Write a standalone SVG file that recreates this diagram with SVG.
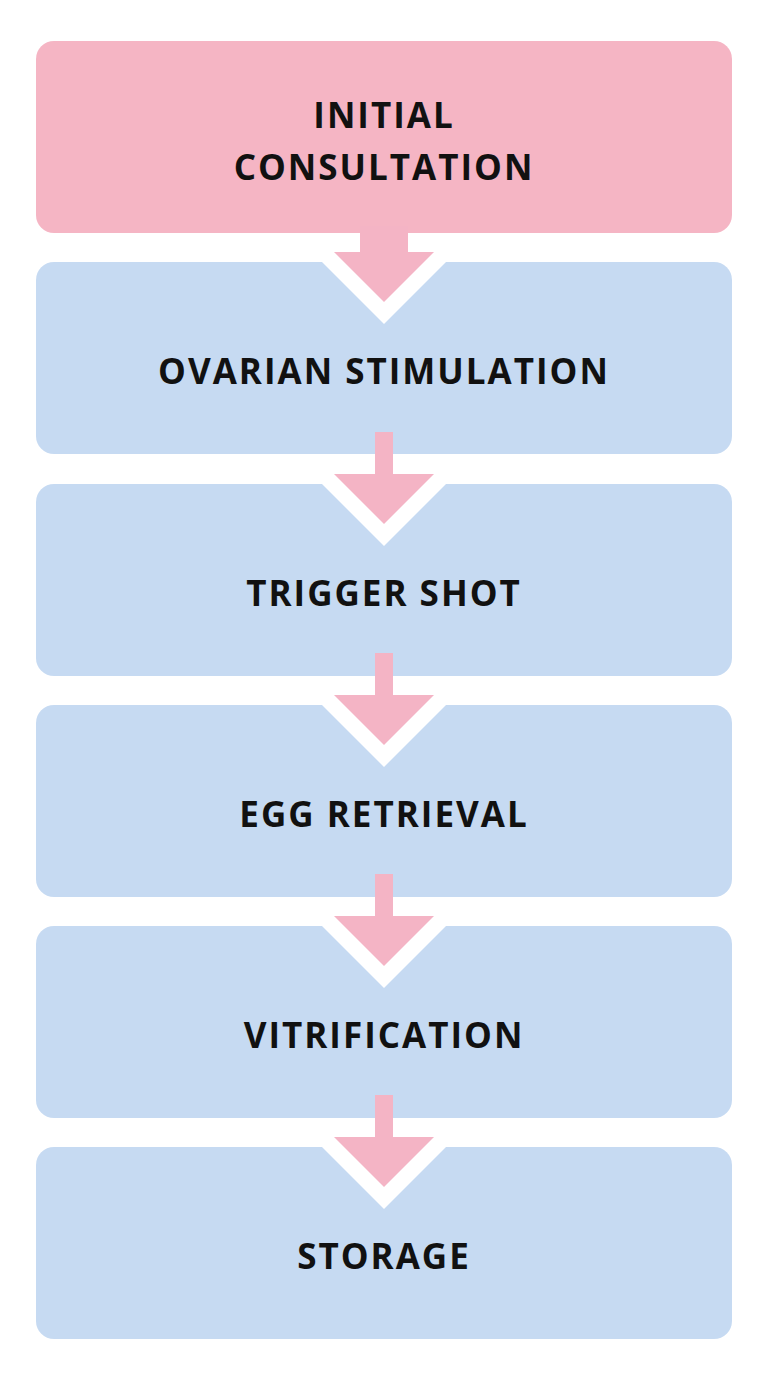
<svg xmlns="http://www.w3.org/2000/svg" width="768" height="1376" viewBox="0 0 768 1376">
<style>
.b{fill:#c6daf2}.p{fill:#f5b5c4}.a{fill:#f4b4c5}.w{fill:#ffffff}
text{font-family:"Open Sans","Liberation Sans",sans-serif;font-weight:700;font-size:35px;letter-spacing:2px;fill:#111;text-anchor:middle}
</style>
<rect width="768" height="1376" fill="#fff"/>
<g id="n1"><rect class="p" x="36" y="41" width="696" height="192" rx="18"/><text x="384" y="128">INITIAL</text><text x="384" y="180">CONSULTATION</text></g>
<g id="n2"><rect class="b" x="36" y="262" width="696" height="192" rx="18"/><text x="384" y="384">OVARIAN STIMULATION</text></g>
<g id="n3"><rect class="b" x="36" y="484" width="696" height="192" rx="18"/><text x="384" y="606">TRIGGER SHOT</text></g>
<g id="n4"><rect class="b" x="36" y="705" width="696" height="192" rx="18"/><text x="384" y="827">EGG RETRIEVAL</text></g>
<g id="n5"><rect class="b" x="36" y="926" width="696" height="192" rx="18"/><text x="384" y="1048">VITRIFICATION</text></g>
<g id="n6"><rect class="b" x="36" y="1147" width="696" height="192" rx="18"/><text x="384" y="1269">STORAGE</text></g>
<g id="connectors">
<polygon class="w" points="322,262 446,262 384,324"/>
<polygon class="a" points="360,226 408,226 408,252 434,252 384,302 334,252 360,252"/>
<polygon class="w" points="322,484 446,484 384,546"/>
<polygon class="a" points="375,432 393,432 393,474 434,474 384,524 334,474 375,474"/>
<polygon class="w" points="322,705 446,705 384,767"/>
<polygon class="a" points="375,653 393,653 393,695 434,695 384,745 334,695 375,695"/>
<polygon class="w" points="322,926 446,926 384,988"/>
<polygon class="a" points="375,874 393,874 393,916 434,916 384,966 334,916 375,916"/>
<polygon class="w" points="322,1147 446,1147 384,1209"/>
<polygon class="a" points="375,1095 393,1095 393,1137 434,1137 384,1187 334,1137 375,1137"/>
</g>
</svg>
